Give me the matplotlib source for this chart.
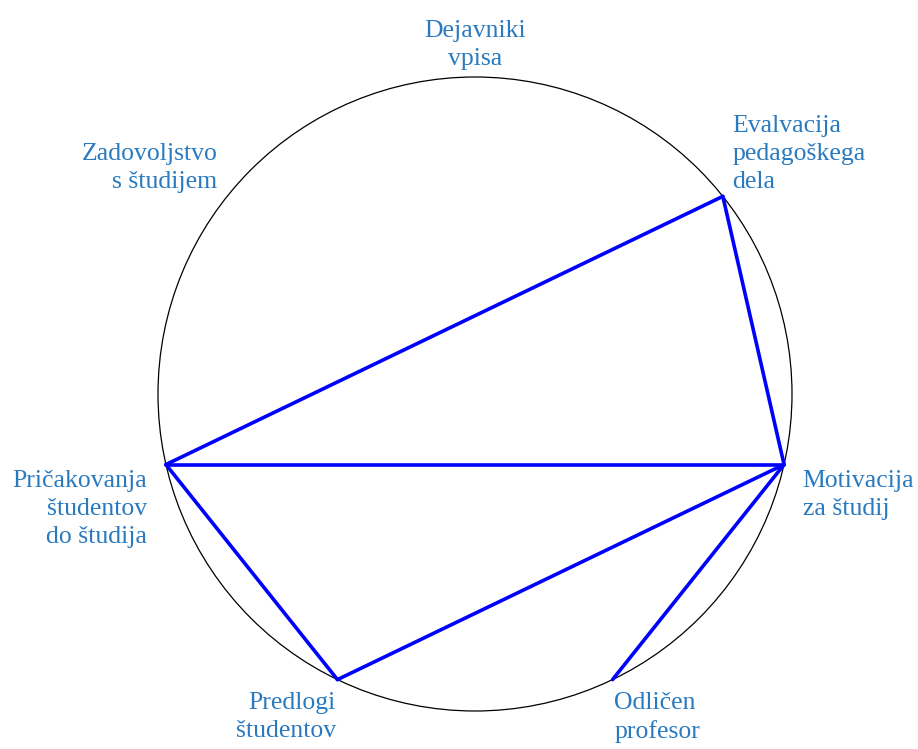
import numpy as np
import matplotlib
matplotlib.use('Agg')
import matplotlib.pyplot as plt
from matplotlib.patches import Circle

# nodes around the circle, clockwise from the top
nodes = ['Dejavniki\nvpisa',
         'Evalvacija\npedagoškega\ndela',
         'Motivacija\nza študij',
         'Odličen\nprofesor',
         'Predlogi\nštudentov',
         'Pričakovanja\nštudentov\ndo študija',
         'Zadovoljstvo\ns študijem']

# connections between nodes (by index)
edges = [(1, 5), (1, 2), (5, 2), (5, 4), (4, 2), (2, 3)]

label_color = '#2a7abf'
edge_color = '#0000ff'

fig = plt.figure(figsize=(9.18, 7.49), dpi=100)
ax = fig.add_axes([0, 0, 1, 1])
# circle centre at (475, 394) px, radius 317 px
ax.set_xlim(-475 / 317, 443 / 317)
ax.set_ylim(-355 / 317, 394 / 317)
ax.set_aspect('equal')
ax.axis('off')

n = len(nodes)
ang = np.deg2rad(90 - np.arange(n) * 360 / n)
xs, ys = np.cos(ang), np.sin(ang)

ax.add_patch(Circle((0, 0), 1, fill=False, edgecolor='black', lw=0.9))

for a, b in edges:
    ax.plot([xs[a], xs[b]], [ys[a], ys[b]], color=edge_color, lw=2.6,
            solid_capstyle='round')

for i, name in enumerate(nodes):
    c, s = np.cos(ang[i]), np.sin(ang[i])
    ha = 'left' if c > 0.2 else ('right' if c < -0.2 else 'center')
    va = 'bottom' if s > 0.2 else ('top' if s < -0.2 else 'center')
    ax.annotate(name, (xs[i], ys[i]), xytext=(20 * c ** 3, 10 * s - 3),
                textcoords='offset pixels', ha=ha, va=va,
                multialignment=ha,
                fontsize=18.5, family='Liberation Serif', color=label_color,
                linespacing=1.37)

fig.savefig('out.png', dpi=100)
